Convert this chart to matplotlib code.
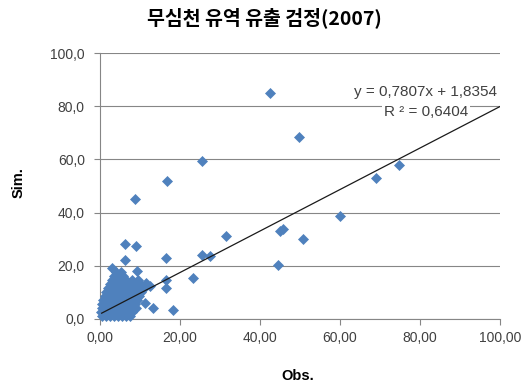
# -*- coding: utf-8 -*-

import numpy as np
import matplotlib
matplotlib.use('Agg')
import matplotlib.pyplot as plt

plt.rcParams['font.family'] = ['Liberation Sans', 'Noto Sans CJK KR', 'DejaVu Sans']

obs_outer = [6.25, 6.25, 8.9, 2.9, 9.2, 11.3, 13.2, 18.3, 16.6, 16.4, 16.4,
             23.3, 25.4, 27.5, 31.5, 45.0, 45.8, 44.6, 50.8, 60.0, 69.0,
             74.8, 49.8, 42.5, 25.4, 16.7, 8.8, 11.5, 12.5]
sim_outer = [22.3, 28.3, 27.3, 19.2, 17.9, 6.0, 4.0, 3.4, 11.5, 14.6, 22.9,
             15.3, 24.2, 23.6, 31.0, 33.0, 33.7, 20.3, 30.0, 38.6, 53.0,
             57.7, 68.5, 85.0, 59.4, 52.0, 45.2, 13.5, 12.5]

# dense cluster of low-flow days near the origin
obs_low = [0.5, 1.5, 2.5, 3.5, 4.5, 5.5, 6.5, 7.5,
           0.3, 1.2, 2.2, 3.3, 4.6, 5.8, 7.0, 8.0,
           0.6, 1.8, 3.0, 4.2, 5.4, 6.6, 7.8, 9.0,
           0.4, 1.5, 2.7, 3.9, 5.1, 6.3, 7.6, 8.8,
           0.8, 2.0, 3.2, 4.4, 5.6, 6.8, 8.1, 9.3,
           1.2, 2.4, 3.6, 4.8, 6.0, 7.2, 8.5, 9.8,
           1.6, 2.8, 4.0, 5.2, 6.4, 7.6, 8.9, 10.3,
           2.0, 3.2, 4.4, 5.6, 6.8, 8.0, 9.5, 11.0,
           2.5, 3.6, 4.8, 6.0, 7.2, 8.6, 10.0,
           3.0, 4.2, 5.4, 6.6, 8.0, 9.5,
           3.5, 4.6, 5.8,
           4.0, 5.2]
sim_low = [1.0] * 8 + [2.5] * 8 + [4.0] * 8 + [5.5] * 8 + [7.0] * 8 \
    + [8.5] * 8 + [10.0] * 8 + [11.5] * 8 + [13.0] * 7 + [14.5] * 6 \
    + [16.0] * 3 + [17.5] * 2

slope, intercept = 0.7807, 1.8354
trend_x = [0.4, 100.0]

x_ticks = [0, 20, 40, 60, 80, 100]
y_ticks = [0, 20, 40, 60, 80, 100]

fig = plt.figure(figsize=(5.21, 3.87), dpi=100)
ax = fig.add_axes([0.192, 0.176, 0.768, 0.687])

obs = obs_low + obs_outer
sim = sim_low + sim_outer
ax.plot(obs, sim, 'D', ms=5.5, color='#4F81BD', mec='#4F81BD', mew=0.5,
        zorder=3, clip_on=False)

tx = np.array(trend_x)
ax.plot(tx, slope * tx + intercept, color='#1a1a1a', lw=0.9, zorder=4)

ax.set_xlim(0, 100)
ax.set_ylim(0, 100)
ax.set_xticks(x_ticks)
ax.set_yticks(y_ticks)
ax.set_xticklabels(['{:.2f}'.format(v).replace('.', ',') for v in x_ticks])
ax.set_yticklabels(['{:.1f}'.format(v).replace('.', ',') for v in y_ticks])
ax.tick_params(axis='both', direction='out', length=4, width=0.8,
               color='#868686', labelsize=10, labelcolor='#404040')
ax.tick_params(axis='y', pad=7)
ax.tick_params(axis='x', pad=5)

ax.yaxis.grid(True, color='#868686', lw=0.8)
ax.set_axisbelow(True)
for s in ['top', 'right']:
    ax.spines[s].set_visible(False)
for s in ['left', 'bottom']:
    ax.spines[s].set_color('#868686')
    ax.spines[s].set_linewidth(0.8)

ax.text(0.993, 0.855, 'y = 0,7807x + 1,8354', transform=ax.transAxes,
        ha='right', va='center', fontsize=11, color='#404040', zorder=5)
ax.text(0.92, 0.78, 'R ² = 0,6404', transform=ax.transAxes,
        ha='right', va='center', fontsize=11, color='#404040', zorder=5,
        bbox=dict(boxstyle='square,pad=0.1', fc='white', ec='none'))

fig.text(0.508, 0.955, '무심천 유역 유출 검정(2007)', ha='center', va='center',
         fontsize=14, fontweight='bold', family=['Noto Sans CJK KR'])
fig.text(0.035, 0.527, 'Sim.', rotation=90, ha='center', va='center',
         fontsize=10.5, fontweight='bold')
fig.text(0.572, 0.028, 'Obs.', ha='center', va='center',
         fontsize=10.5, fontweight='bold')

fig.savefig('out.png', dpi=100)
